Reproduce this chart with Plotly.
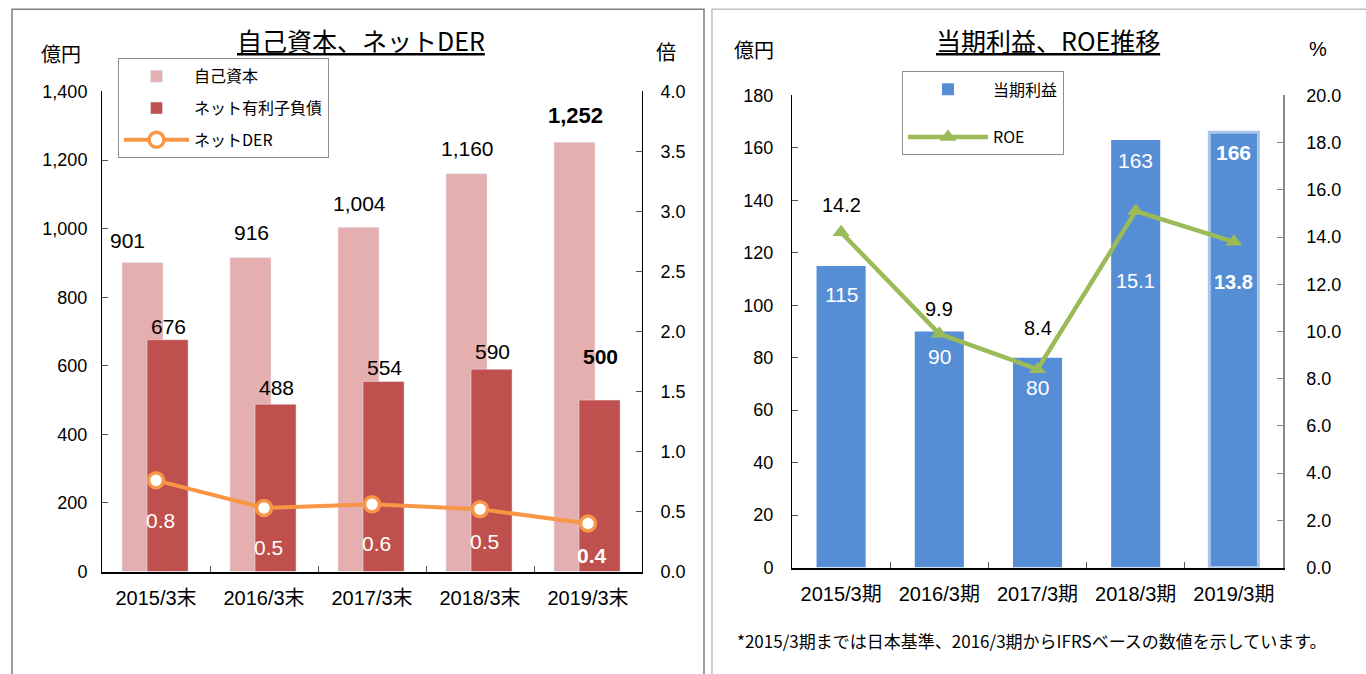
import plotly.graph_objects as go

# ---------------- data ----------------
periods_left = ["2015/3末", "2016/3末", "2017/3末", "2018/3末", "2019/3末"]
equity = [901, 916, 1004, 1160, 1252]
net_debt = [676, 488, 554, 590, 500]
net_der = [0.76, 0.53, 0.56, 0.52, 0.40]

periods_right = ["2015/3期", "2016/3期", "2017/3期", "2018/3期", "2019/3期"]
net_income = [115, 90, 80, 163, 166]
roe = [14.2, 9.9, 8.4, 15.1, 13.8]

# ---------------- styles ----------------
W, H = 1366, 674
VSCALE = 0.968  # compensation for vertical scaling seen in render
FONT = "Liberation Sans, Noto Sans CJK JP, sans-serif"
CJK = "Noto Sans CJK JP, sans-serif"
PINK = "#E4AFAE"
RED = "#C0504D"
ORANGE = "#F79646"
BLUE = "#558ED5"
GREEN = "#9BBB59"


def px_x(p):
    return p / W


def px_y(p):
    q = H / 2 + (p - H / 2) / VSCALE
    return 1 - q / H


fig = go.Figure()

# left chart
fig.add_trace(go.Bar(x=periods_left, y=equity, name="自己資本", marker=dict(color=PINK),
                     width=0.38, offset=-0.315, xaxis="x", yaxis="y",
                     legend="legend", legendgroup="a"))
fig.add_trace(go.Bar(x=periods_left, y=net_debt, name="ネット有利子負債", marker=dict(color=RED),
                     width=0.38, offset=-0.083, xaxis="x", yaxis="y",
                     legend="legend", legendgroup="b"))
fig.add_trace(go.Scatter(x=periods_left, y=net_der, name="ネットDER", mode="lines+markers",
                         line=dict(color=ORANGE, width=4),
                         marker=dict(symbol="circle", size=15, color="white",
                                     line=dict(color=ORANGE, width=3.5)),
                         xaxis="x", yaxis="y2", legend="legend", legendgroup="c"))

# right chart
bar_line_colors = [BLUE] * (len(net_income) - 1) + ["#A9C6EA"]
bar_line_widths = [0] * (len(net_income) - 1) + [3]
fig.add_trace(go.Bar(x=periods_right, y=net_income, name="当期利益",
                     marker=dict(color=BLUE, line=dict(color=bar_line_colors, width=bar_line_widths)),
                     width=0.5, xaxis="x2", yaxis="y3", legend="legend2", legendgroup="d"))
fig.add_trace(go.Scatter(x=periods_right, y=roe, name="ROE", mode="lines+markers",
                         line=dict(color=GREEN, width=4.5),
                         marker=dict(symbol="triangle-up", size=15, color=GREEN),
                         xaxis="x2", yaxis="y4", legend="legend2", legendgroup="e"))

# ---------------- labels ----------------
ann = []
eq_shift_x = [-16, 0, 0, 0, 0]
eq_shift_y = [22, 25, 24, 25, 27]
for i, (c, v) in enumerate(zip(periods_left, equity)):
    last = i == len(equity) - 1
    ann.append(dict(x=c, y=v, xref="x", yref="y", text=(f"<b>{v:,}</b>" if last else f"{v:,}"),
                    showarrow=False, xshift=-13 + eq_shift_x[i], yshift=eq_shift_y[i],
                    font=dict(family=FONT, size=21 if not last else 22, color="black")))
nd_shift_y = [13, 17, 14, 18, 44]
for i, (c, v) in enumerate(zip(periods_left, net_debt)):
    last = i == len(net_debt) - 1
    ann.append(dict(x=c, y=v, xref="x", yref="y", text=(f"<b>{v:,}</b>" if last else f"{v:,}"),
                    showarrow=False, xshift=12, yshift=nd_shift_y[i],
                    font=dict(family=FONT, size=21, color="black")))
der_shift_y = [-40, -40, -39, -32, -32]
for i, (c, v) in enumerate(zip(periods_left, net_der)):
    last = i == len(net_der) - 1
    t = f"{v:.1f}"
    ann.append(dict(x=c, y=v, xref="x", yref="y2", text=(f"<b>{t}</b>" if last else t),
                    showarrow=False, xshift=4, yshift=der_shift_y[i],
                    font=dict(family=FONT, size=21, color="white")))

ni_shift_y = [-29, -25, -30, -20, -20]
for i, (c, v) in enumerate(zip(periods_right, net_income)):
    last = i == len(net_income) - 1
    ann.append(dict(x=c, y=v, xref="x2", yref="y3", text=(f"<b>{v}</b>" if last else f"{v}"),
                    showarrow=False, yshift=ni_shift_y[i],
                    font=dict(family=FONT, size=21, color="white")))
roe_shift_y = [27, 25, 41, -70, -40]
roe_colors = ["black", "black", "black", "white", "white"]
for i, (c, v) in enumerate(zip(periods_right, roe)):
    last = i == len(roe) - 1
    t = f"{v:.1f}"
    ann.append(dict(x=c, y=v, xref="x2", yref="y4", text=(f"<b>{t}</b>" if last else t),
                    showarrow=False, yshift=roe_shift_y[i],
                    font=dict(family=FONT, size=20, color=roe_colors[i])))


def paper_text(x, y, text, size, family=CJK):
    return dict(x=px_x(x), y=px_y(y), xref="paper", yref="paper", text=text,
                showarrow=False, xanchor="center", yanchor="middle",
                font=dict(family=family, size=size, color="black"))


# titles, units, note
ann += [
    paper_text(361, 41, "<u>自己資本、ネットDER</u>", 25),
    paper_text(1048, 41, "<u>当期利益、ROE推移</u>", 25),
    paper_text(61, 54, "億円", 20),
    paper_text(666, 52, "倍", 20),
    paper_text(754, 50, "億円", 20),
    paper_text(1318, 50, "%", 20, FONT),
    paper_text(1032, 640, "*2015/3期までは日本基準、2016/3期からIFRSベースの数値を示しています。", 17),
]

# panel borders
shapes = [
    dict(type="rect", xref="paper", yref="paper", x0=px_x(12), x1=px_x(704), y0=px_y(720), y1=px_y(10),
         line=dict(color="#7f7f7f", width=1.5), fillcolor="rgba(0,0,0,0)", layer="below"),
    dict(type="rect", xref="paper", yref="paper", x0=px_x(712), x1=px_x(1380), y0=px_y(720), y1=px_y(10),
         line=dict(color="#c0c0c0", width=1.5), fillcolor="rgba(0,0,0,0)", layer="below"),
]

tick_font = dict(family=FONT, size=18, color="black")
xtick_font = dict(family=FONT, size=20, color="black")

axis_common = dict(showgrid=False, zeroline=False, showline=True, ticks="inside", ticklen=6,
                   fixedrange=True)

fig.update_layout(
    width=W, height=H, margin=dict(l=0, r=0, t=0, b=0, pad=0),
    paper_bgcolor="white", plot_bgcolor="white",
    barmode="overlay", showlegend=True,
    font=dict(family=FONT, color="black"),
    xaxis=dict(domain=[px_x(102), px_x(642)], anchor="y", tickson="boundaries",
               linecolor="black", linewidth=1.5, tickcolor="#555", tickfont=xtick_font,
               ticklabelstandoff=8, **axis_common),
    yaxis=dict(domain=[px_y(571), px_y(92)], anchor="x", range=[0, 1400], dtick=200,
               tickformat=",", linecolor="black", linewidth=1, tickcolor="#555",
               tickfont=tick_font, ticklabelstandoff=10, **axis_common),
    yaxis2=dict(overlaying="y", side="right", anchor="x", range=[0, 4], dtick=0.5, tickformat=".1f",
                linecolor="black", linewidth=1, tickcolor="#555", tickfont=tick_font,
                ticklabelstandoff=14, **axis_common),
    xaxis2=dict(domain=[px_x(792), px_x(1283)], anchor="y3", tickson="boundaries",
                linecolor="black", linewidth=1.5, tickcolor="#555", tickfont=xtick_font,
                ticklabelstandoff=8, **axis_common),
    yaxis3=dict(domain=[px_y(567), px_y(96)], anchor="x2", range=[0, 180], dtick=20,
                linecolor="black", linewidth=1, tickcolor="#555", tickfont=tick_font,
                ticklabelstandoff=14, **axis_common),
    yaxis4=dict(overlaying="y3", side="right", anchor="x2", range=[0, 20], dtick=2, tickformat=".1f",
                linecolor="#888", linewidth=1.5, tickcolor="#888", tickfont=tick_font,
                ticklabelstandoff=18, **axis_common),
    legend=dict(x=px_x(118), y=px_y(59), xanchor="left", yanchor="top", bgcolor="white",
                bordercolor="#8c8c8c", borderwidth=1, font=dict(family=CJK, size=16),
                tracegroupgap=8, itemwidth=65),
    legend2=dict(x=px_x(902), y=px_y(72), xanchor="left", yanchor="top", bgcolor="white",
                 bordercolor="#8c8c8c", borderwidth=1, font=dict(family=CJK, size=16),
                 tracegroupgap=24, itemwidth=80),
    annotations=ann,
    shapes=shapes,
)

fig.write_html("out.html", config={"displayModeBar": False},
               post_script="document.body.style.margin='0';")
